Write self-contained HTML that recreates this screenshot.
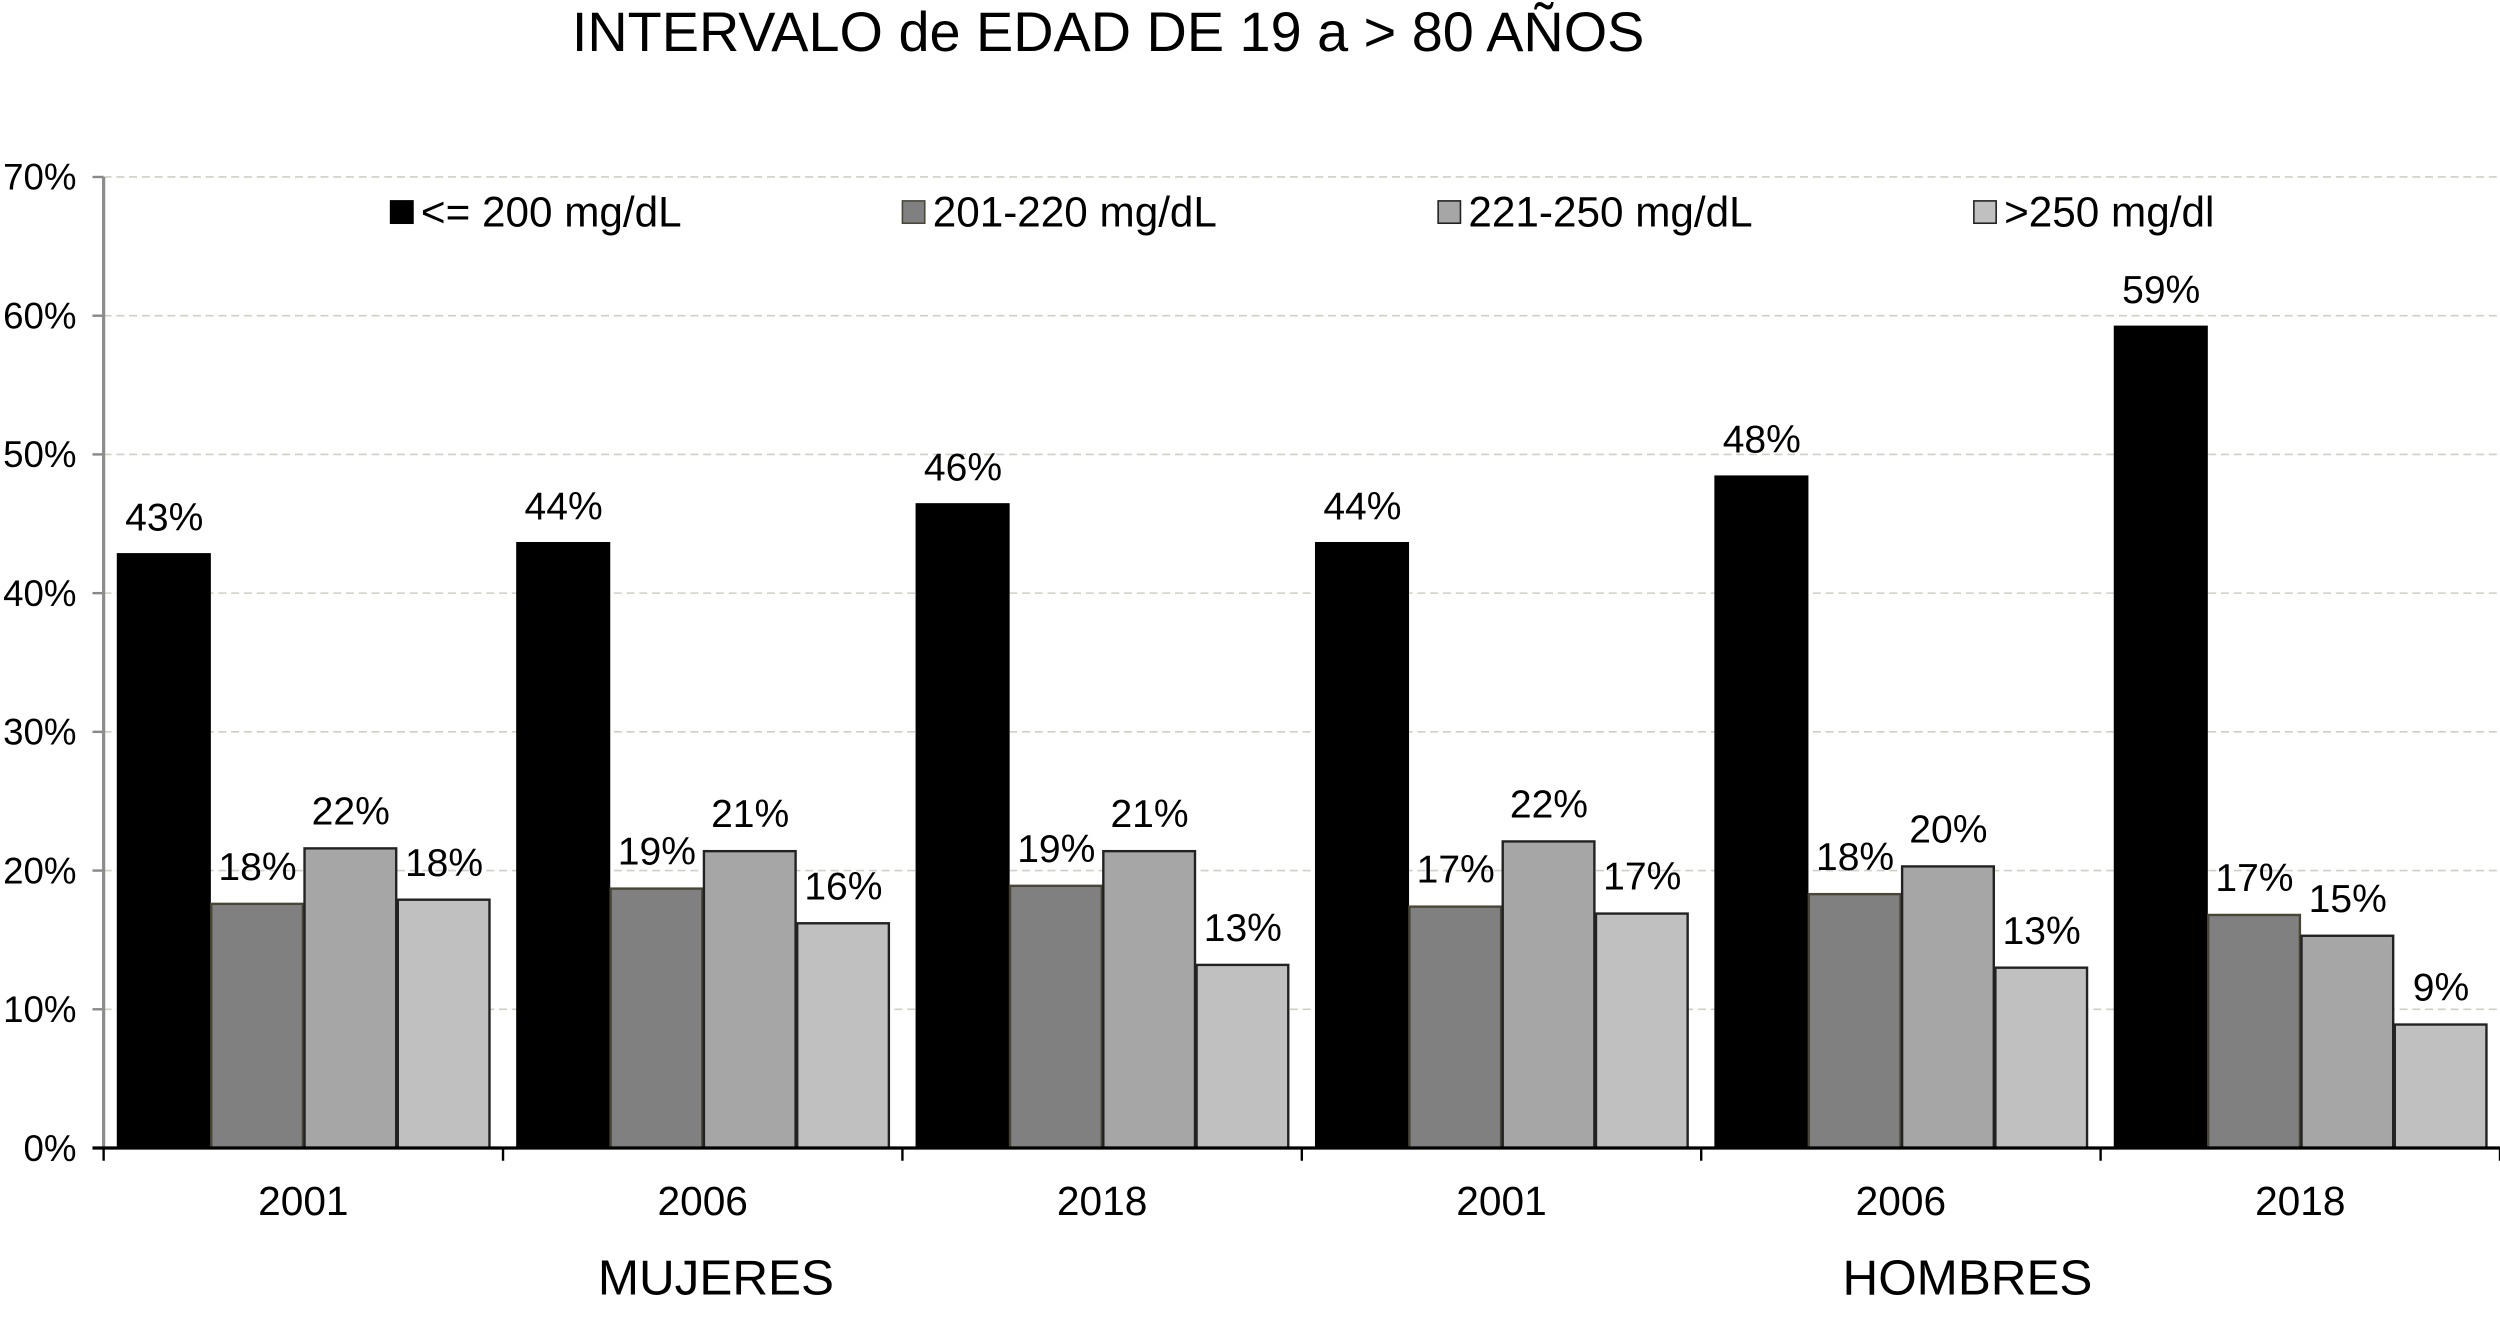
<!DOCTYPE html>
<html><head><meta charset="utf-8"><style>
html,body{margin:0;padding:0;background:#fff;}
svg{display:block;font-family:"Liberation Sans",Arial,sans-serif;}
</style></head><body>
<svg id="chart" width="2500" height="1321" viewBox="0 0 1568 828.5" preserveAspectRatio="none" xmlns="http://www.w3.org/2000/svg">
<text x="695" y="32" font-size="35" text-anchor="middle" fill="#000">INTERVALO de EDAD DE 19 a &gt; 80 AÑOS</text>
<g id="grid"></g>
<g id="bars"></g>
<g id="axes"></g>
<g id="legend"></g>
</svg>
<script>
const categories = ["2001","2006","2018","2001","2006","2018"];
const groups = ["MUJERES","HOMBRES"];
const seriesNames = ["<= 200 mg/dL","201-220 mg/dL","221-250 mg/dL",">250 mg/dl"];
const s1 = [42.8,43.6,46.4,43.6,48.4,59.2];
const s2 = [17.6,18.7,18.9,17.4,18.3,16.8];
const s3 = [21.6,21.4,21.4,22.1,20.3,15.3];
const s4 = [17.9,16.2,13.2,16.9,13.0,8.9];
const yTicks = [0,10,20,30,40,50,60,70];

const NS="http://www.w3.org/2000/svg";
const X0=65, X1=1568, Y0=720, Y70=111;
const fills=["#000000","#808080","#a6a6a6","#c0c0c0"];
const strokes=["#000000","#4a4636","#222222","#222222"];
const series=[s1,s2,s3,s4];
const groupW=(X1-X0)/categories.length;
function y(v){return Y0-(v/70)*(Y0-Y70);}
function xBar(c,s){return X0+c*groupW+9+s*58.5;}
function mk(tag,attrs,parent,text){const e=document.createElementNS(NS,tag);for(const k in attrs)e.setAttribute(k,attrs[k]);if(text!==undefined)e.textContent=text;parent.appendChild(e);return e;}
const grid=document.getElementById('grid'),bars=document.getElementById('bars'),axes=document.getElementById('axes'),legend=document.getElementById('legend');
yTicks.forEach(t=>{
  if(t>0){const l=mk('line',{x1:X0,x2:X1,y1:y(t),y2:y(t),stroke:'#cfcfc4','stroke-width':1,'stroke-dasharray':'5,3'},grid);
  
  }
  const tk=mk('line',{x1:X0-7,x2:X0,y1:y(t),y2:y(t),stroke:'#888','stroke-width':1.5},axes);
  
  
  const lb=mk('text',{x:48,y:y(t)+8,'font-size':23,'text-anchor':'end'},axes,t+'%');
  
  
});
series.forEach((arr,s)=>{
  arr.forEach((v,c)=>{
    const bx=xBar(c,s);
    const r=mk('rect',{x:bx,y:y(v),width:57.5,height:Y0-y(v),fill:fills[s],stroke:strokes[s],'stroke-width':1.5},bars);
    
    
    const t=mk('text',{x:bx+29,y:y(v)-15,'font-size':24.5,'text-anchor':'middle'},bars,Math.round(v)+'%');
    
    
  });
});
const ya=mk('line',{x1:X0,x2:X0,y1:Y70,y2:Y0,stroke:'#8c8c8c','stroke-width':2},axes);


const xa=mk('line',{x1:X0-7,x2:X1,y1:Y0,y2:Y0,stroke:'#000','stroke-width':2},axes);


for(let c=0;c<=categories.length;c++){
  const tk=mk('line',{x1:X0+c*groupW,x2:X0+c*groupW,y1:Y0,y2:Y0+8,stroke:'#000','stroke-width':1.5},axes);
  
  
}
categories.forEach((cat,c)=>{
  const t=mk('text',{x:X0+(c+0.5)*groupW,y:762,'font-size':25.5,'text-anchor':'middle'},axes,cat);
  
  
});
const gx=[449,1234];
groups.forEach((g,i)=>{
  const t=mk('text',{x:gx[i],y:812,'font-size':31,'text-anchor':'middle'},axes,g);
  
  
});
const lx=[245,566,902,1238];
seriesNames.forEach((n,i)=>{
  const r=mk('rect',{x:lx[i],y:126,width:14,height:14,fill:fills[i],stroke:strokes[i],'stroke-width':1},legend);
  
  
  const t=mk('text',{x:lx[i]+19,y:142,'font-size':26.5},legend,n);
  
  
});
</script>
</body></html>
